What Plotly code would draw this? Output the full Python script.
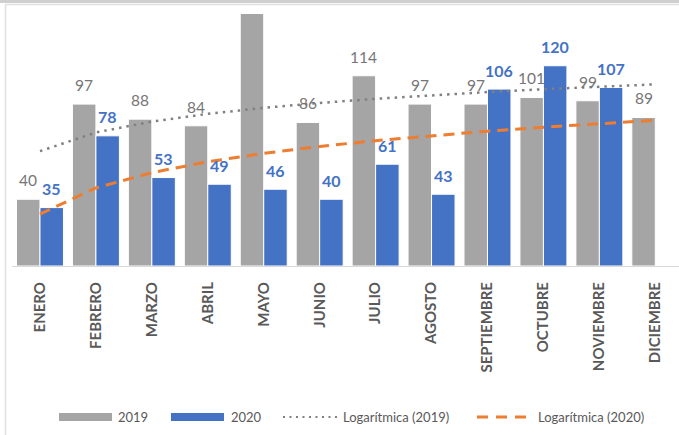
import numpy as np
import plotly.graph_objects as go

months = ["ENERO", "FEBRERO", "MARZO", "ABRIL", "MAYO", "JUNIO", "JULIO",
          "AGOSTO", "SEPTIEMBRE", "OCTUBRE", "NOVIEMBRE", "DICIEMBRE"]
v2019 = [40, 97, 88, 84, 156, 86, 114, 97, 97, 101, 99, 89]
v2020 = [35, 78, 53, 49, 46, 40, 61, 43, 106, 120, 107, None]
# May 2019 bar is clipped at the top of the chart; its label is not visible
hidden_2019_labels = {"MAYO"}

W, H = 679, 435
L, R, T, B = 12, 0, 14, 169
PW, PH = W - L - R, H - T - B
CAT = 55.94
YMAX = 151

def fit_log(vals):
    idx = np.array([i + 1 for i, v in enumerate(vals) if v is not None], float)
    y = np.array([v for v in vals if v is not None], float)
    b, a = np.polyfit(np.log(idx), y, 1)
    xs = np.arange(1, len(vals) + 1)
    return a + b * np.log(xs)

trend19 = fit_log(v2019)
trend20 = fit_log(v2020)

GRAY = "#A5A5A5"
BLUE = "#4472C4"
ORANGE = "#ED7D31"
TXT = "#595959"
FONT = "Lato"

fig = go.Figure()
fig.add_bar(x=months, y=v2019, name="2019", marker=dict(color=GRAY, line=dict(color="white", width=1)))
fig.add_bar(x=months, y=v2020, name="2020", marker=dict(color=BLUE, line=dict(color="white", width=1)))
fig.add_scatter(x=months, y=trend19, mode="lines", name="Logarítmica (2019)",
                line=dict(color="#808080", width=2.5, dash="2.5px,5px"))
fig.add_scatter(x=months, y=trend20, mode="lines", name="Logarítmica (2020)",
                line=dict(color=ORANGE, width=3, dash="11px,7px"))

annotations = []
for m, v in zip(months, v2019):
    if v is None or m in hidden_2019_labels:
        continue
    annotations.append(dict(x=m, y=v, xref="x", yref="y", text=str(v), showarrow=False,
                            xshift=-11.7, yshift=19, yanchor="middle",
                            font=dict(family=FONT, size=15.5, color="#767676")))
for m, v in zip(months, v2020):
    if v is None:
        continue
    annotations.append(dict(x=m, y=v, xref="x", yref="y", text="<b>%d</b>" % v, showarrow=False,
                            xshift=11.7, yshift=19, yanchor="middle",
                            font=dict(family=FONT, size=16, color=BLUE)))

def px(x):
    return (x - L) / PW

def py(y):
    return 1 - (y - T) / PH

shapes = []
# chart frame
shapes.append(dict(type="rect", xref="paper", yref="paper", x0=px(0), x1=px(W), y0=py(0), y1=py(3),
                   fillcolor="#CFCFCF", line=dict(width=0), layer="above"))
shapes.append(dict(type="line", xref="paper", yref="paper", x0=px(5), x1=px(W), y0=py(4.5), y1=py(4.5),
                   line=dict(color="#E0E0E0", width=1.5)))
shapes.append(dict(type="line", xref="paper", yref="paper", x0=px(5.5), x1=px(5.5), y0=py(4.5), y1=py(H),
                   line=dict(color="#E0E0E0", width=1.5)))

# legend
LY = 417
shapes.append(dict(type="rect", xref="paper", yref="paper", x0=px(59), x1=px(112), y0=py(413), y1=py(421),
                   fillcolor=GRAY, line=dict(width=0)))
shapes.append(dict(type="rect", xref="paper", yref="paper", x0=px(171), x1=px(224), y0=py(413), y1=py(421),
                   fillcolor=BLUE, line=dict(width=0)))
shapes.append(dict(type="line", xref="paper", yref="paper", x0=px(283), x1=px(337), y0=py(LY), y1=py(LY),
                   line=dict(color="#808080", width=2, dash="2px,4.5px")))
shapes.append(dict(type="line", xref="paper", yref="paper", x0=px(477), x1=px(532), y0=py(LY), y1=py(LY),
                   line=dict(color=ORANGE, width=3, dash="11px,8px")))
for xt, t in [(116, "2019"), (229, "2020"), (341, "Logarítmica (2019)"), (536, "Logarítmica (2020)")]:
    annotations.append(dict(x=px(xt), y=py(LY), xref="paper", yref="paper", text=t, showarrow=False,
                            xanchor="left", yanchor="middle",
                            font=dict(family=FONT, size=13, color=TXT)))

fig.update_layout(
    width=W, height=H,
    margin=dict(l=L, r=R, t=T, b=B, autoexpand=False),
    paper_bgcolor="white", plot_bgcolor="white",
    barmode="group", bargap=0.16, bargroupgap=0,
    showlegend=False,
    annotations=annotations, shapes=shapes,
    xaxis=dict(range=[-0.5, -0.5 + PW / CAT], showline=True, linecolor="#D9D9D9", linewidth=1,
               tickangle=-90, ticks="", ticklabelstandoff=9,
               tickfont=dict(family=FONT, size=15, color=TXT, weight="bold"), showgrid=False, zeroline=False),
    yaxis=dict(range=[0, YMAX], visible=False, showgrid=False, zeroline=False),
)
fig.write_html("out.html", config={"displayModeBar": False},
               post_script="document.body.style.margin='0';document.body.style.overflow='hidden';")
